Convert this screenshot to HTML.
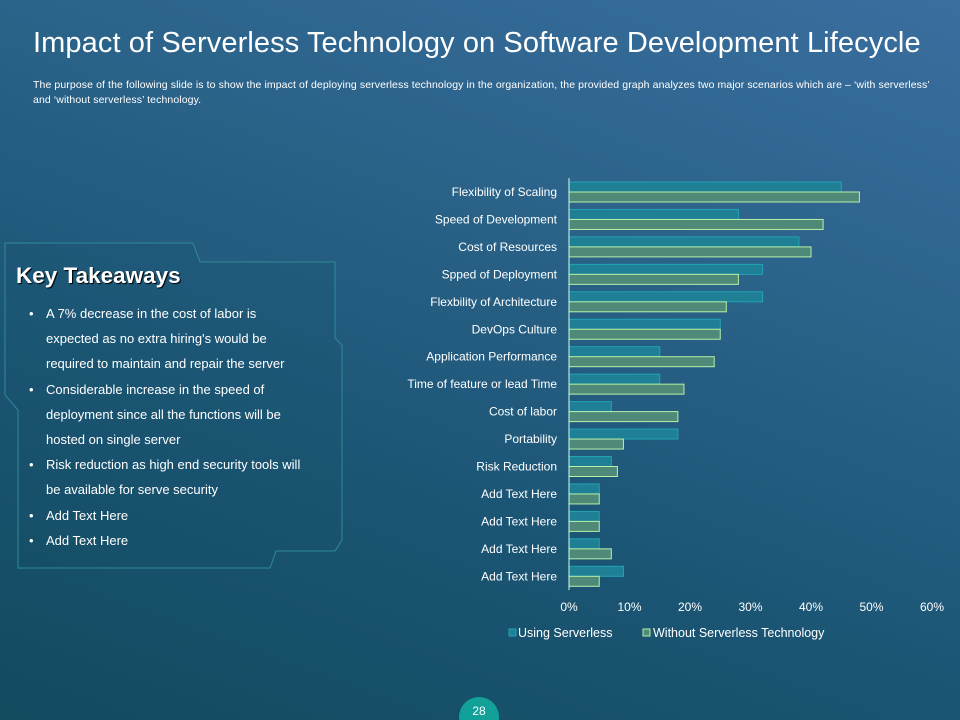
<!DOCTYPE html>
<html><head><meta charset="utf-8"><style>
html,body{margin:0;padding:0}
body{width:960px;height:720px;overflow:hidden;position:relative;font-family:"Liberation Sans",sans-serif;
background:linear-gradient(200deg,#3a6e9f 0%,#2a6288 35%,#1b5574 65%,#124a5e 100%);color:#fff}
h1{position:absolute;left:33px;top:27px;margin:0;font-weight:normal;font-size:29px;letter-spacing:0.1px;white-space:nowrap}
.sub{position:absolute;left:33px;top:78px;width:915px;font-size:10.5px;line-height:15px;letter-spacing:0.1px}
</style></head><body>
<h1>Impact of Serverless Technology on Software Development Lifecycle</h1>
<div class="sub">The purpose of the following slide is to show the impact of deploying serverless technology in the organization, the provided graph analyzes two major scenarios which are – ‘with serverless’ and ‘without serverless’ technology.</div>
<svg id="s" width="960" height="720" style="position:absolute;left:0;top:0" font-family="Liberation Sans, sans-serif">
<polygon points="5,243 193,243 200,262 335,262 335,338 342,345 342,540 335,551 276,551 270,568 18,568 18,410 5,395" fill="rgba(20,80,100,0.15)" stroke="#2f8a98" stroke-width="1"/>
<text x="16" y="283" font-size="22.5" font-weight="bold" fill="#fff" style="text-shadow:1px 1px 1px #000">Key Takeaways</text>
<g font-size="13" fill="#fff">
<text x="29" y="318">•</text><text x="46" y="318">A 7% decrease in the cost of labor is</text>
<text x="46" y="343">expected as no extra hiring's would be</text>
<text x="46" y="368">required to maintain and repair the server</text>
<text x="29" y="394">•</text><text x="46" y="394">Considerable increase in the speed of</text>
<text x="46" y="419">deployment since all the functions will be</text>
<text x="46" y="444">hosted on single server</text>
<text x="29" y="469">•</text><text x="46" y="469">Risk reduction as high end security tools will</text>
<text x="46" y="494">be available for serve security</text>
<text x="29" y="520">•</text><text x="46" y="520">Add Text Here</text>
<text x="29" y="545">•</text><text x="46" y="545">Add Text Here</text>
</g>
<g id="chart"></g>
<circle cx="479" cy="717" r="20" fill="#12a198"/>
<text x="479" y="715" font-size="12" fill="#fff" text-anchor="middle">28</text>
</svg>
<script>
var cats=[["Flexibility of Scaling",45,48],["Speed of Development ",28,42],["Cost of Resources",38,40],["Spped of Deployment",32,28],["Flexbility of Architecture",32,26],["DevOps Culture",25,25],["Application Performance",15,24],["Time of feature or lead Time",15,19],["Cost of labor",7,18],["Portability",18,9],["Risk Reduction",7,8],["Add Text Here",5,5],["Add Text Here",5,5],["Add Text Here",5,7],["Add Text Here",9,5]];
var h='',x0=569,k=6.05;
cats.forEach(function(c,i){var cy=192+27.45*i;
h+='<text x="557" y="'+(cy+4)+'" font-size="12" fill="#fff" text-anchor="end">'+c[0]+'</text>';
h+='<rect x="'+x0+'" y="'+(cy-10)+'" width="'+c[1]*k+'" height="10" fill="#1e7f95" stroke="#22a3b5" stroke-width="1"/>';
h+='<rect x="'+x0+'" y="'+cy+'" width="'+c[2]*k+'" height="10" fill="#4f8a78" stroke="#b8f0a8" stroke-width="1"/>';});
h+='<line x1="569" y1="178" x2="569" y2="590" stroke="#cfe" stroke-width="1"/>';
for(var j=0;j<=6;j++)h+='<text x="'+(x0+j*10*k)+'" y="611" font-size="12" fill="#fff" text-anchor="middle">'+(j*10)+'%</text>';
h+='<rect x="509" y="629" width="7" height="7" fill="#1e7f95" stroke="#22a3b5"/><text x="518" y="637" font-size="12.5" fill="#fff">Using Serverless</text>';
h+='<rect x="643" y="629" width="7" height="7" fill="#4f8a78" stroke="#b8f0a8"/><text x="653" y="637" font-size="12.5" fill="#fff">Without Serverless Technology</text>';
document.getElementById('chart').innerHTML=h;
</script>
</body></html>
